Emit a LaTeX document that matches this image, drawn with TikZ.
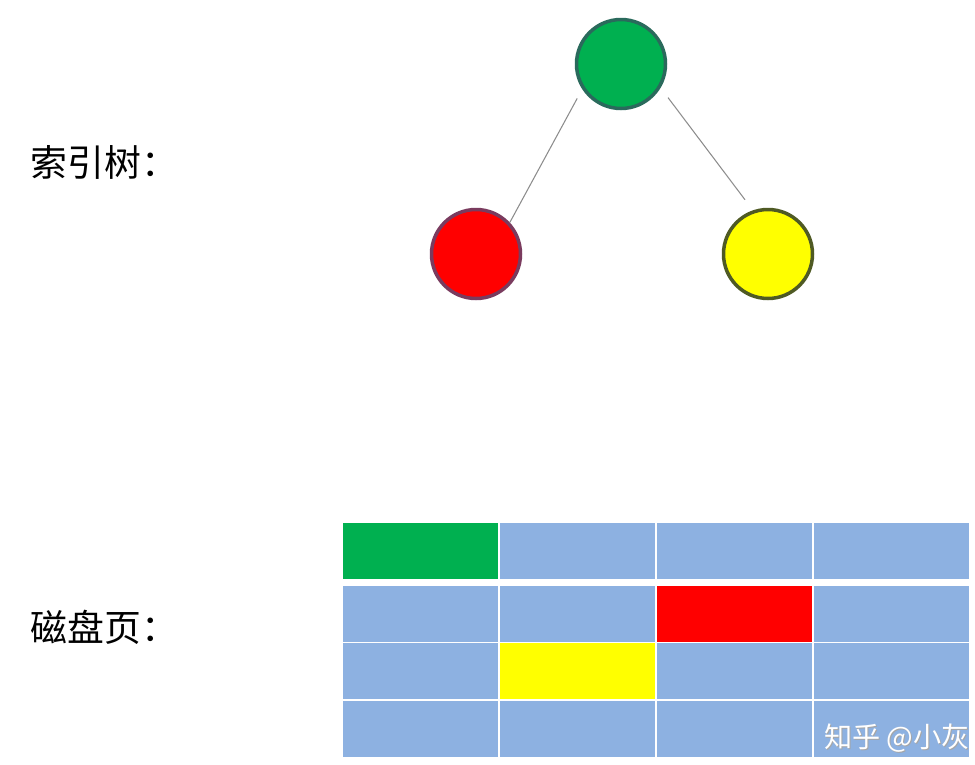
\documentclass[tikz,border=0pt]{standalone}
\usepackage{fontspec}
\newfontfamily\cjk{Noto Sans CJK SC}
\usetikzlibrary{positioning}
\definecolor{nodegreen}{HTML}{00B050}
\definecolor{nodered}{HTML}{FF0000}
\definecolor{nodeyellow}{HTML}{FFFF00}
\definecolor{pageblue}{HTML}{8DB1E1}
\definecolor{greenrim}{HTML}{2A6A5C}
\definecolor{redrim}{HTML}{7A3B5E}
\definecolor{yellowrim}{HTML}{4F5A24}
\tikzset{
	treenode/.style={circle,minimum size=1.78cm,line width=2pt},
	link/.style={color=gray!90, line width=0.6pt},
	pagecell/.style={rectangle,draw=white,line width=1pt,fill=pageblue,minimum width=3.14cm,minimum height=1.14cm,inner sep=0},
	caption/.style={font=\cjk\fontsize{21}{25}\selectfont,anchor=west,inner sep=0},
	watermark/.style={font=\cjk\fontsize{16}{19}\selectfont,anchor=east,inner sep=0}
}
\begin{document}
\begin{tikzpicture}[x=0.02cm,y=-0.02cm]
		\useasboundingbox (0,0) rectangle (975,765);
		%%% index tree
		\node[treenode,fill=nodegreen,draw=greenrim] (root) at (621,64) {};
		\node[treenode,fill=nodered,draw=redrim] (lchild) at (476,254) {};
		\node[treenode,fill=nodeyellow,draw=yellowrim] (rchild) at (768,254) {};
		
		\draw[link,shorten <=6pt] (root.213) -- (lchild.43);
		\draw[link,shorten <=7pt,shorten >=7.5pt] (root.329) -- (rchild.109);
		
		\node[caption] (treelabel) at (30,162) {索引树：};
		
		%%% disk pages
		\foreach \r/\y in {1/551,2/614,3/671,4/729}
		\foreach \c in {1,...,4}
		\node[pagecell] (cell-\r-\c) at ({420.5+157*(\c-1)},\y) {};
		
		\node[pagecell,fill=nodegreen] (page-root) at (cell-1-1) {};
		\node[pagecell,fill=nodered] (page-left) at (cell-2-3) {};
		\node[pagecell,fill=nodeyellow] (page-right) at (cell-3-2) {};
		
		\node[caption] (pagelabel) at (30,627) {磁盘页：};
		
		%%% watermark
		\node[watermark,text=gray!70] (wmshadow) at (971,739) {知乎 @小灰};
		\node[watermark,text=white] (wm) at (970,738) {知乎 @小灰};
	\end{tikzpicture}
\end{document}
